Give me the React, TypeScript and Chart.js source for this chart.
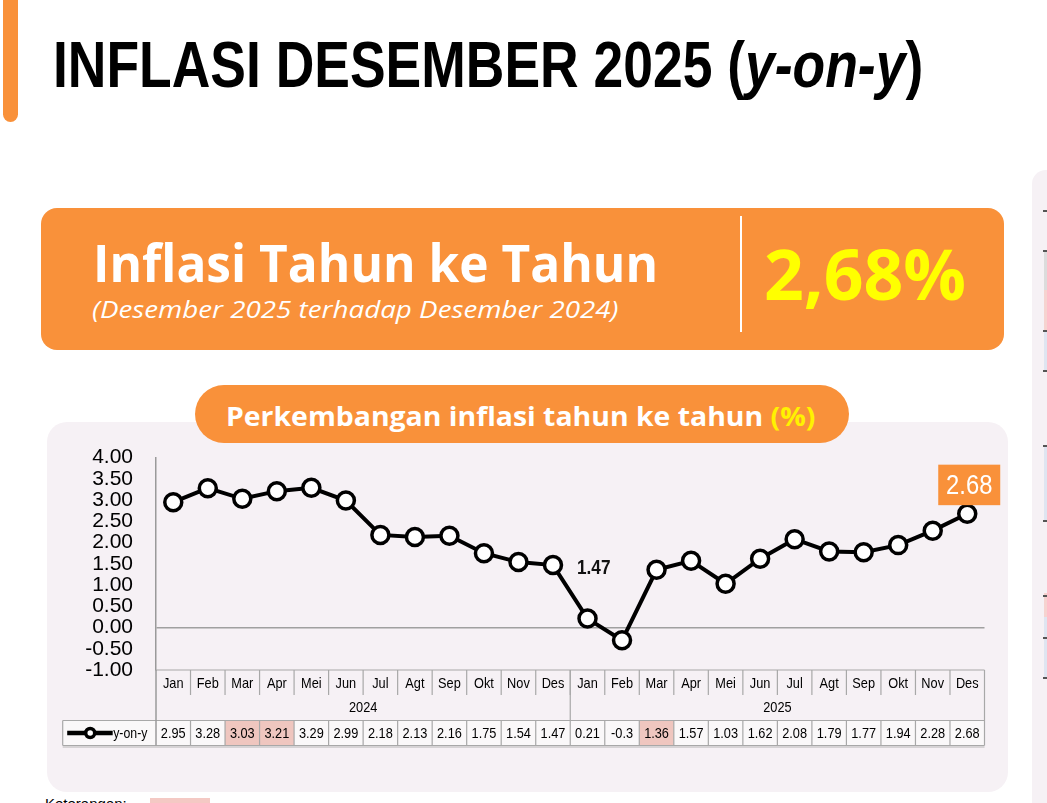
import React, { useEffect, useLayoutEffect, useRef, useState } from "react";
import { Chart, registerables } from "chart.js";

Chart.register(...registerables);

// ---------- data ----------
const categoryMonths = [
  "Jan", "Feb", "Mar", "Apr", "Mei", "Jun", "Jul", "Agt", "Sep", "Okt", "Nov", "Des",
  "Jan", "Feb", "Mar", "Apr", "Mei", "Jun", "Jul", "Agt", "Sep", "Okt", "Nov", "Des",
];
const categoryYears = [
  "2024", "2024", "2024", "2024", "2024", "2024", "2024", "2024", "2024", "2024", "2024", "2024",
  "2025", "2025", "2025", "2025", "2025", "2025", "2025", "2025", "2025", "2025", "2025", "2025",
];
const yoyValues = [
  2.95, 3.28, 3.03, 3.21, 3.29, 2.99, 2.18, 2.13, 2.16, 1.75, 1.54, 1.47,
  0.21, -0.3, 1.36, 1.57, 1.03, 1.62, 2.08, 1.79, 1.77, 1.94, 2.28, 2.68,
];
const yoyTableText = [
  "2.95", "3.28", "3.03", "3.21", "3.29", "2.99", "2.18", "2.13", "2.16", "1.75", "1.54", "1.47",
  "0.21", "-0.3", "1.36", "1.57", "1.03", "1.62", "2.08", "1.79", "1.77", "1.94", "2.28", "2.68",
];
const highlightedCells = [2, 3, 14];
const yTickValues = [4, 3.5, 3, 2.5, 2, 1.5, 1, 0.5, 0, -0.5, -1];
const seriesName = "y-on-y";
const plainLabelIndex = 11;
const boxLabelIndex = 23;
const headlineValue = "2,68%";

// ---------- styles ----------
const ORANGE = "#F9913A";
const PANEL_BG = "#F6F1F5";
const ARIAL = '"Liberation Sans", Arial, sans-serif';
const NARROW = '"Liberation Sans Narrow", "Liberation Sans", Arial, sans-serif';
const HUMAN = '"Open Sans", "Noto Sans", sans-serif';

function drawText(
  ctx: CanvasRenderingContext2D,
  text: string,
  x: number,
  y: number,
  font: string,
  color: string,
  align: CanvasTextAlign,
  sx = 1
) {
  ctx.save();
  ctx.translate(x, y);
  ctx.scale(sx, 1);
  ctx.font = font;
  ctx.fillStyle = color;
  ctx.textAlign = align;
  ctx.textBaseline = "middle";
  ctx.fillText(text, 0, 0);
  ctx.restore();
}

function line(ctx: CanvasRenderingContext2D, x1: number, y1: number, x2: number, y2: number) {
  ctx.beginPath();
  ctx.moveTo(x1, y1);
  ctx.lineTo(x2, y2);
  ctx.stroke();
}

const tablePlugin = {
  id: "tableAndLabels",
  afterDraw(chart: any) {
    const { ctx, chartArea } = chart;
    const xs = chart.scales.x;
    const ys = chart.scales.y;
    const n = yoyValues.length;
    const colW = (chartArea.right - chartArea.left) / n;
    const L = chartArea.left;
    const R = chartArea.right;
    const top = chartArea.bottom;
    const catBottom = top + 25;
    const dataTop = top + 50.5;
    const dataBottom = top + 75.5;
    const legendLeft = 15.7;
    const edge = (i: number) => xs.getPixelForValue(i) - colW / 2;

    ctx.save();
    // data cells
    for (let i = 0; i < n; i++) {
      ctx.fillStyle = highlightedCells.includes(i) ? "#EFC6BF" : "#FAF8F9";
      ctx.fillRect(edge(i), dataTop, colW, dataBottom - dataTop);
    }
    ctx.fillStyle = "#FAF8F9";
    ctx.fillRect(legendLeft, dataTop, L - legendLeft, dataBottom - dataTop);

    // grid lines
    ctx.strokeStyle = "#a8a8a8";
    ctx.lineWidth = 1.2;
    line(ctx, L, top, R, top);
    for (let i = 1; i < n; i++) line(ctx, edge(i), top, edge(i), catBottom);
    for (let i = 1; i < n; i++) {
      if (categoryYears[i] !== categoryYears[i - 1]) line(ctx, edge(i), top, edge(i), dataTop);
    }
    line(ctx, R, top, R, dataBottom);
    line(ctx, legendLeft, dataTop, R, dataTop);
    line(ctx, legendLeft, dataBottom, R, dataBottom);
    line(ctx, legendLeft, dataTop, legendLeft, dataBottom);
    for (let i = 1; i < n; i++) line(ctx, edge(i), dataTop, edge(i), dataBottom);
    ctx.strokeStyle = "#9a9a9a";
    ctx.lineWidth = 1.5;
    line(ctx, L, top, L, dataBottom);
    ctx.strokeStyle = "rgba(150,150,150,0.45)";
    ctx.lineWidth = 1.5;
    line(ctx, legendLeft, dataBottom + 1.5, R, dataBottom + 1.5);

    // month labels
    for (let i = 0; i < n; i++) {
      drawText(ctx, categoryMonths[i], xs.getPixelForValue(i), top + 13.5, `14.5px ${ARIAL}`, "#000", "center", 0.88);
    }
    // year labels
    let start = 0;
    for (let i = 1; i <= n; i++) {
      if (i === n || categoryYears[i] !== categoryYears[start]) {
        const cx = (edge(start) + edge(i - 1) + colW) / 2;
        drawText(ctx, categoryYears[start], cx, top + 38, `14.5px ${ARIAL}`, "#000", "center", 0.88);
        start = i;
      }
    }
    // values
    for (let i = 0; i < n; i++) {
      drawText(ctx, yoyTableText[i], xs.getPixelForValue(i), top + 63.5, `14.5px ${ARIAL}`, "#000", "center", 0.88);
    }
    // legend sample
    const ly = top + 63;
    ctx.strokeStyle = "#000";
    ctx.lineWidth = 4.5;
    line(ctx, legendLeft + 4.5, ly, legendLeft + 50, ly);
    ctx.beginPath();
    ctx.arc(legendLeft + 27.5, ly, 4.5, 0, Math.PI * 2);
    ctx.fillStyle = "#fff";
    ctx.fill();
    ctx.lineWidth = 3.5;
    ctx.stroke();
    drawText(ctx, seriesName, legendLeft + 50.5, ly + 0.5, `14.5px ${ARIAL}`, "#000", "left", 0.85);

    // point labels
    const px = xs.getPixelForValue(plainLabelIndex);
    const py = ys.getPixelForValue(yoyValues[plainLabelIndex]);
    drawText(ctx, yoyValues[plainLabelIndex].toFixed(2), px + 24, py + 3.5, `bold 20px ${ARIAL}`, "#111", "left", 0.86);

    const bx = xs.getPixelForValue(boxLabelIndex);
    const by = ys.getPixelForValue(yoyValues[boxLabelIndex]);
    const bw = 62;
    const bh = 40.5;
    ctx.fillStyle = ORANGE;
    ctx.fillRect(bx + 2 - bw / 2, by - 8.5 - bh, bw, bh);
    drawText(ctx, yoyValues[boxLabelIndex].toFixed(2), bx + 2, by - 8.5 - bh / 2 + 1, `28px ${ARIAL}`, "#fff", "center", 0.85);
    ctx.restore();
  },
};

function FitText(props: { x: number; y: number; w: number; style: React.CSSProperties; children: React.ReactNode }) {
  const ref = useRef<HTMLDivElement>(null);
  const [s, setS] = useState(1);
  useLayoutEffect(() => {
    const measure = () => {
      const el = ref.current;
      if (el && el.offsetWidth) setS(props.w / el.offsetWidth);
    };
    measure();
    const f = (document as any).fonts;
    if (f && f.ready) f.ready.then(measure);
  }, [props.w]);
  return (
    <div
      ref={ref}
      style={{
        position: "absolute",
        left: props.x,
        top: props.y,
        whiteSpace: "nowrap",
        lineHeight: 1,
        transformOrigin: "0 0",
        transform: `scaleX(${s})`,
        ...props.style,
      }}
    >
      {props.children}
    </div>
  );
}

function LineChart() {
  const canvasRef = useRef<HTMLCanvasElement>(null);
  useEffect(() => {
    const canvas = canvasRef.current;
    if (!canvas) return;
    const chart = new Chart(canvas, {
      type: "line",
      data: {
        labels: categoryMonths.map((m, i) => `${m} ${categoryYears[i]}`),
        datasets: [
          {
            label: seriesName,
            data: yoyValues,
            borderColor: "#000",
            borderWidth: 4,
            pointRadius: 8.5,
            pointHoverRadius: 8.5,
            pointBackgroundColor: "#fff",
            pointBorderColor: "#000",
            pointBorderWidth: 3.5,
            tension: 0,
            clip: false as any,
          },
        ],
      },
      options: {
        animation: false,
        responsive: false,
        devicePixelRatio: 1,
        events: [],
        layout: { padding: { left: 0, top: 34.5, right: 23.5, bottom: 120 } },
        plugins: { legend: { display: false }, tooltip: { enabled: false } },
        scales: {
          x: { type: "category", display: false, offset: true },
          y: {
            min: -1,
            max: 4,
            afterBuildTicks: (s: any) => {
              s.ticks = yTickValues.map((v) => ({ value: v }));
            },
            afterFit: (s: any) => {
              s.width = 109;
            },
            ticks: {
              autoSkip: false,
              padding: 23,
              color: "#000",
              font: { family: NARROW, size: 21 },
              callback: (v: any) => Number(v).toFixed(2),
            },
            grid: {
              drawTicks: false,
              color: (c: any) => (c.tick && c.tick.value === 0 ? "#a0a0a0" : "rgba(0,0,0,0)"),
              lineWidth: 1.5,
            },
            border: { display: true, color: "#9a9a9a", width: 1.5 },
          },
        },
      },
      plugins: [tablePlugin],
    } as any);
    return () => chart.destroy();
  }, []);
  return (
    <canvas
      ref={canvasRef}
      width={961}
      height={368}
      style={{ position: "absolute", left: 47, top: 422, width: 961, height: 368 }}
    />
  );
}

const sideMarks = [210, 250, 330, 370, 445, 520, 595, 637, 677];
const sideStrips = [
  { top: 250, h: 40, c: "#dcdcdc" },
  { top: 290, h: 40, c: "#f6d3d0" },
  { top: 330, h: 40, c: "#dfe5f1" },
  { top: 445, h: 75, c: "#dfe5f1" },
  { top: 593, h: 24, c: "#f6d3d0" },
  { top: 617, h: 60, c: "#dfe5f1" },
];

export default function App() {
  return (
    <div
      style={{
        position: "absolute",
        left: 0,
        top: 0,
        width: 1047,
        height: 803,
        overflow: "hidden",
        background: "#fff",
        fontFamily: ARIAL,
      }}
    >
      {/* left accent bar */}
      <div style={{ position: "absolute", left: 3, top: -10, width: 15, height: 132, background: ORANGE, borderRadius: 8 }} />
      <FitText x={53} y={32} w={870} style={{ fontFamily: NARROW, fontWeight: 700, fontSize: 65, color: "#000" }}>
        INFLASI DESEMBER 2025 (<span style={{ fontStyle: "italic" }}>y-on-y</span>)
      </FitText>

      {/* right partial panel */}
      <div style={{ position: "absolute", left: 1032, top: 170, width: 60, height: 700, background: PANEL_BG, borderRadius: 14 }} />
      {sideStrips.map((s, i) => (
        <div key={"s" + i} style={{ position: "absolute", left: 1044, top: s.top, width: 4, height: s.h, background: s.c }} />
      ))}
      {sideMarks.map((y, i) => (
        <div key={"m" + i} style={{ position: "absolute", left: 1043, top: y, width: 5, height: 1.5, background: "#555" }} />
      ))}

      {/* headline banner */}
      <div style={{ position: "absolute", left: 41, top: 208, width: 963, height: 142, background: ORANGE, borderRadius: 16 }} />
      <FitText x={93} y={236} w={565} style={{ fontFamily: HUMAN, fontWeight: 700, fontSize: 52, color: "#fff" }}>
        Inflasi Tahun ke Tahun
      </FitText>
      <FitText x={92} y={297} w={526} style={{ fontFamily: HUMAN, fontWeight: 400, fontStyle: "italic", fontSize: 24, color: "#fff" }}>
        (Desember 2025 terhadap Desember 2024)
      </FitText>
      <div style={{ position: "absolute", left: 740, top: 216, width: 1.5, height: 116, background: "#fff" }} />
      <FitText x={764} y={238} w={202} style={{ fontFamily: HUMAN, fontWeight: 700, fontSize: 70, color: "#FFFF00" }}>
        {headlineValue}
      </FitText>

      {/* chart panel */}
      <div style={{ position: "absolute", left: 47, top: 422, width: 961, height: 370, background: PANEL_BG, borderRadius: 20 }} />
      <LineChart />

      {/* section pill */}
      <div style={{ position: "absolute", left: 195, top: 385, width: 654, height: 58, background: ORANGE, borderRadius: 29, zIndex: 2 }} />
      <FitText x={226} y={402} w={589} style={{ fontFamily: HUMAN, fontWeight: 700, fontSize: 27, color: "#fff", zIndex: 3 }}>
        Perkembangan inflasi tahun ke tahun <span style={{ color: "#FFF200" }}>(%)</span>
      </FitText>

      {/* footer fragment */}
      <div style={{ position: "absolute", left: 45, top: 795, fontSize: 15, color: "#000", fontFamily: ARIAL }}>Keterangan:</div>
      <div style={{ position: "absolute", left: 150, top: 798, width: 60, height: 10, background: "#F4C9C4" }} />
    </div>
  );
}
